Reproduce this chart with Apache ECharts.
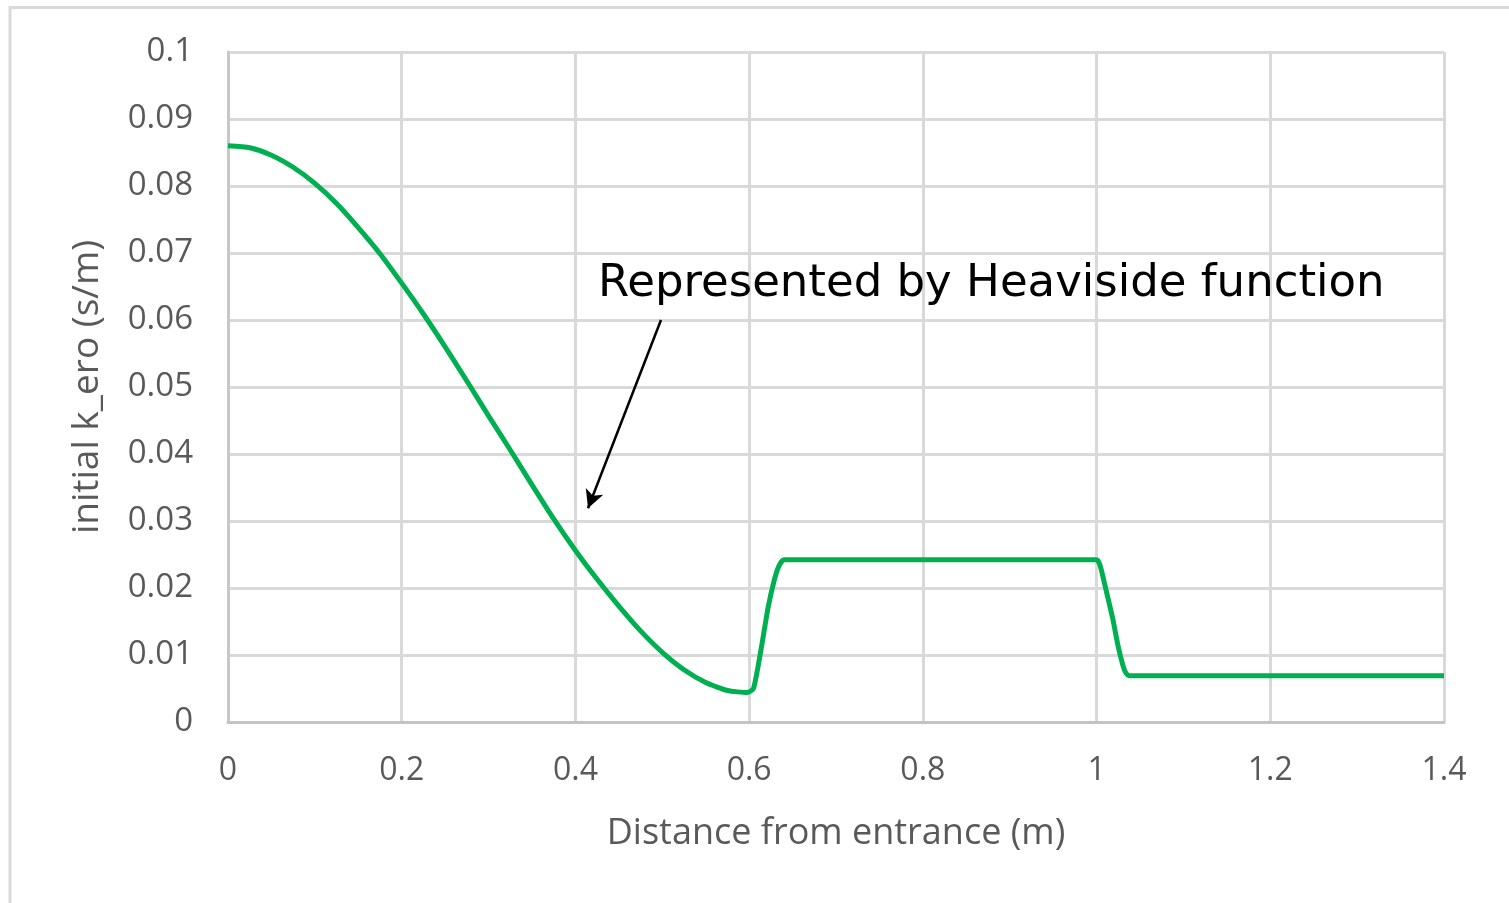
<!DOCTYPE html>
<html>
<head>
<meta charset="utf-8">
<script src="https://cdn.jsdelivr.net/npm/echarts@6/dist/echarts.min.js"></script>
<style>
html,body{margin:0;padding:0;background:#fff;}
#chart{width:1509px;height:903px;}
</style>
</head>
<body>
<div id="chart"></div>
<script>
// Distance from entrance (m)
const distance = [0, 0.025, 0.05, 0.075, 0.1, 0.125, 0.15, 0.175, 0.2, 0.225, 0.25, 0.275,
  0.3, 0.325, 0.35, 0.375, 0.4, 0.425, 0.45, 0.475, 0.5, 0.525, 0.55, 0.575,
  0.598, 0.605, 0.613, 0.622, 0.629, 0.634, 0.640,
  1.0, 1.004, 1.010, 1.019, 1.025, 1.032, 1.037, 1.4];
// initial k_ero (s/m)
const kEro = [0.0860, 0.0857, 0.0846, 0.0828, 0.0804, 0.0774, 0.0738, 0.0699, 0.0655, 0.0609, 0.0560, 0.0509,
  0.0457, 0.0406, 0.0354, 0.0303, 0.0256, 0.0213, 0.0173, 0.0136, 0.0104, 0.0078, 0.0059, 0.0047,
  0.0044, 0.0050, 0.0103, 0.0172, 0.0212, 0.0232, 0.0242,
  0.0242, 0.0234, 0.0202, 0.0152, 0.0112, 0.0078, 0.0069, 0.0069];
const xTicks = ['0', '0.2', '0.4', '0.6', '0.8', '1', '1.2', '1.4'];
const yTicks = ['0', '0.01', '0.02', '0.03', '0.04', '0.05', '0.06', '0.07', '0.08', '0.09', '0.1'];
const annotationText = 'Represented by Heaviside function';
const arrowFrom = [0.4985, 0.0600];
const arrowTo = [0.4145, 0.0319];

const seriesData = distance.map((d, i) => [d, kEro[i]]);
const textColor = '#595959';
const font = '"Open Sans", sans-serif';

const chart = echarts.init(document.getElementById('chart'), null, {renderer: 'canvas'});
chart.setOption({
  backgroundColor: '#ffffff',
  animation: false,
  grid: {left: 228, right: 65, top: 52, bottom: 181, containLabel: false},
  xAxis: {
    type: 'value', min: 0, max: 1.4, interval: 0.2,
    name: 'Distance from entrance (m)', nameLocation: 'middle', nameGap: 94,
    nameTextStyle: {color: textColor, fontSize: 36, fontFamily: font},
    axisLine: {show: true, lineStyle: {color: '#c3c3c3', width: 3}},
    axisTick: {show: false},
    axisLabel: {color: textColor, fontSize: 32, fontFamily: font, margin: 33,
      formatter: v => xTicks[Math.round(v / 0.2)]},
    splitLine: {show: true, lineStyle: {color: '#d9d9d9', width: 3}}
  },
  yAxis: {
    type: 'value', min: 0, max: 0.1, interval: 0.01,
    name: 'initial k_ero (s/m)', nameLocation: 'middle', nameGap: 122, nameRotate: 90,
    nameTextStyle: {color: textColor, fontSize: 37, fontFamily: font},
    axisLine: {show: true, lineStyle: {color: '#c8c8c8', width: 3}},
    axisTick: {show: false},
    axisLabel: {color: textColor, fontSize: 33, fontFamily: font, margin: 35,
      formatter: v => yTicks[Math.round(v / 0.01)]},
    splitLine: {show: true, lineStyle: {color: '#d9d9d9', width: 3}}
  },
  series: [{
    type: 'line',
    data: seriesData,
    showSymbol: false,
    smooth: 0.2,
    lineStyle: {color: '#00b050', width: 5},
    itemStyle: {color: '#00b050'},
    markLine: {
      silent: true,
      symbol: ['none', 'arrow'],
      symbolSize: [14, 18],
      label: {show: false},
      lineStyle: {color: '#000000', width: 2.5, type: 'solid'},
      data: [[{coord: arrowFrom}, {coord: arrowTo}]]
    }
  }],
  graphic: [
    {type: 'polyline', silent: true, z: 0,
      shape: {points: [[10, 903], [10, 7.5], [1509, 7.5]]},
      style: {stroke: '#d9d9d9', lineWidth: 3, fill: null}},
    {type: 'text', silent: true, z: 100, left: 598, top: 262,
      style: {text: annotationText, fill: '#000000', font: '45px "DejaVu Sans", sans-serif'}}
  ]
});
</script>
</body>
</html>
